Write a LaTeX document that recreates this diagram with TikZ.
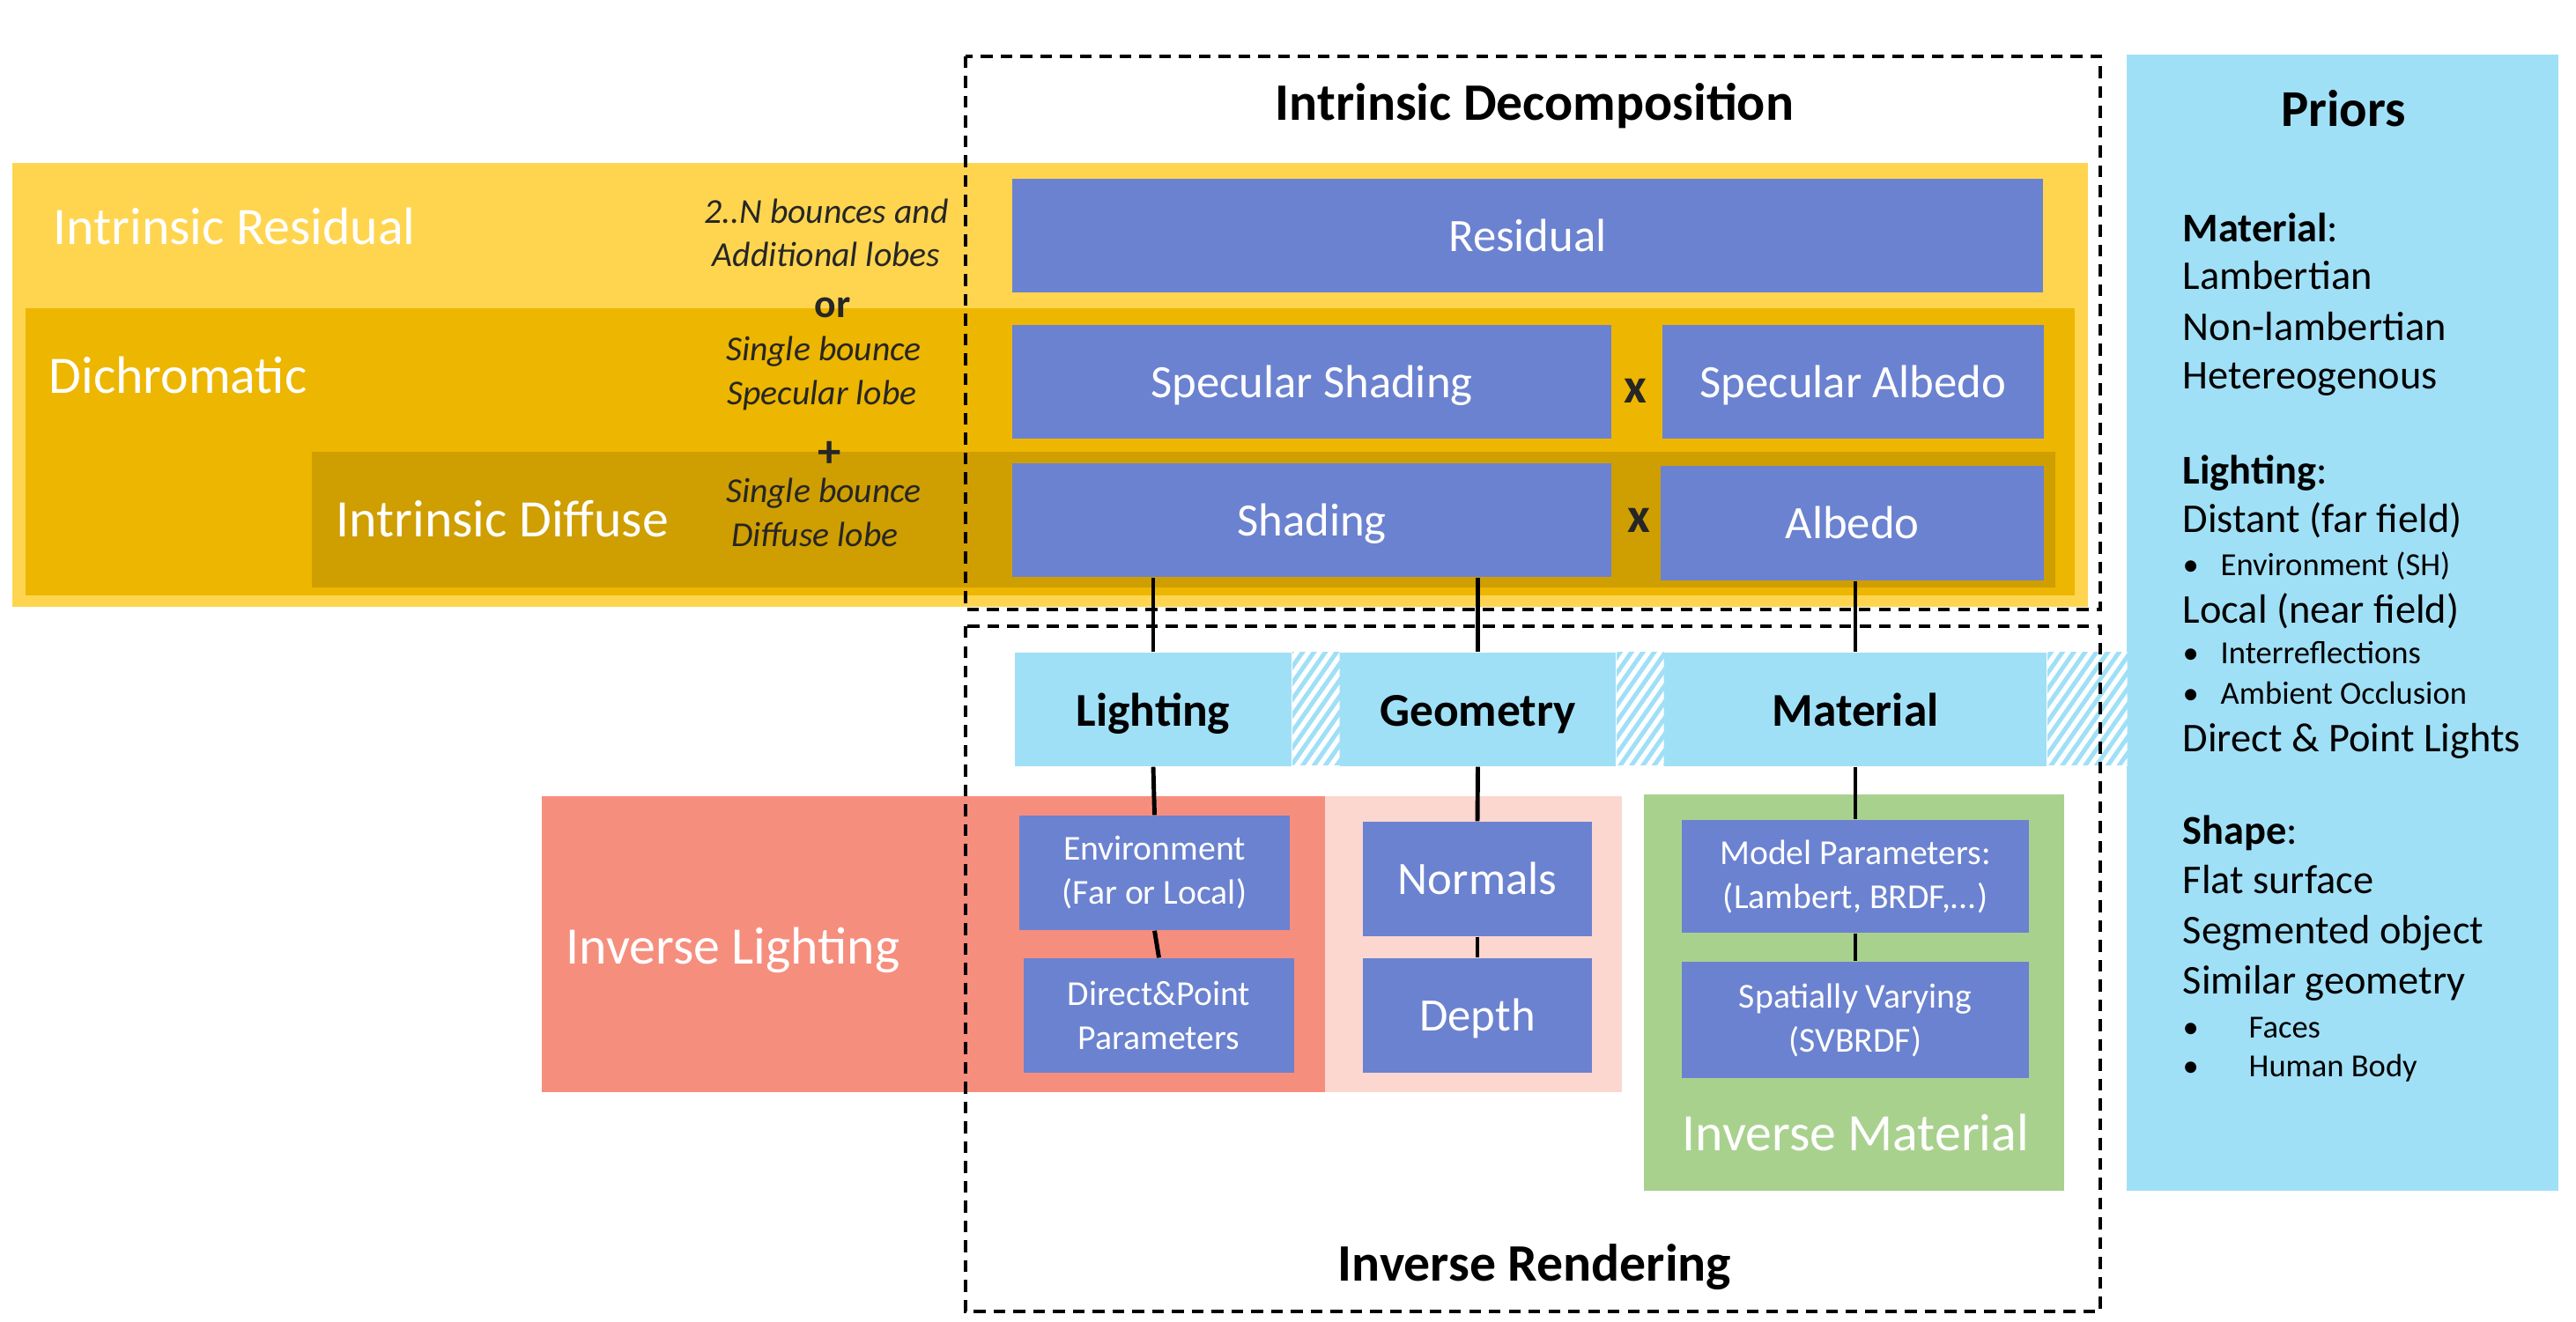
\documentclass[tikz,border=0pt]{standalone}
\usepackage{fontspec}
\setmainfont{Carlito}
\usetikzlibrary{patterns.meta}

\definecolor{resyellow}{HTML}{FFD550}
\definecolor{dichyellow}{HTML}{EDB600}
\definecolor{diffyellow}{HTML}{CF9E00}
\definecolor{boxblue}{HTML}{6B82D0}
\definecolor{catcyan}{HTML}{A0E0F7}
\definecolor{lightred}{HTML}{F68E7E}
\definecolor{geompink}{HTML}{FBD7D0}
\definecolor{matgreen}{HTML}{A9D18E}
\definecolor{notegray}{HTML}{262626}

\tikzset{
  blk/.style={fill=boxblue, text=white, inner sep=0pt, text height=11pt, text depth=1pt, font=\fontsize{15}{18}\selectfont},
  blks/.style={fill=boxblue, text=white, inner sep=0pt, align=center, font=\fontsize{11.3}{14.2}\selectfont},
  cat/.style={fill=catcyan, inner sep=0pt, text height=11.6pt, text depth=1pt, font=\bfseries\fontsize{15.2}{18}\selectfont},
  hatch/.style={preaction={fill=catcyan}, pattern={Lines[angle=55,distance=3pt,line width=1.5pt]}, pattern color=white},
  area/.style={text=white, inner sep=0pt, anchor=base west, font=\fontsize{17}{20}\selectfont},
  note/.style={text=notegray, inner sep=0pt, anchor=base, font=\itshape\fontsize{11.3}{13}\selectfont},
  sign/.style={text=notegray, inner sep=0pt, font=\bfseries\fontsize{13}{15}\selectfont},
  title/.style={inner sep=0pt, anchor=base, font=\bfseries\fontsize{17}{20}\selectfont},
  prior/.style={inner sep=0pt, anchor=base west, font=\fontsize{13.2}{16}\selectfont},
  priorsm/.style={prior, font=\fontsize{10.4}{12}\selectfont},
  frame/.style={line width=1.1pt, dash pattern=on 3.8pt off 2.6pt},
  link/.style={line width=1.4pt}
}

\begin{document}
\begin{tikzpicture}
  \useasboundingbox (0,0) rectangle (29.24,-15.01);

  % coloured areas
  \fill[resyellow] (0.14,-1.85) rectangle (23.70,-6.89);
  \fill[dichyellow] (0.29,-3.50) rectangle (23.55,-6.76);
  \fill[diffyellow] (3.54,-5.13) rectangle (23.33,-6.67);
  \fill[lightred] (6.15,-9.04) rectangle (15.04,-12.40);
  \fill[geompink] (15.04,-9.04) rectangle (18.41,-12.40);
  \fill[matgreen] (18.66,-9.02) rectangle (23.43,-13.52);
  \fill[catcyan] (24.14,-0.62) rectangle (29.04,-13.52);

  \node[area] (resl) at (0.60,-2.77) {Intrinsic Residual};
  \node[area] (dichl) at (0.55,-4.46) {Dichromatic};
  \node[area] (diffl) at (3.81,-6.09) {Intrinsic Diffuse};
  \node[area] (invl) at (6.42,-10.94) {Inverse Lighting};
  \node[area] (invm) at (19.09,-13.06) {Inverse Material};

  \node[note] (n1) at (9.38,-2.53) {2..N bounces and};
  \node[note] (n2) at (9.38,-3.02) {Additional lobes};
  \node[sign, anchor=base] (or) at (9.45,-3.60) {or};
  \node[note] (n3) at (9.35,-4.09) {Single bounce};
  \node[note] (n4) at (9.33,-4.59) {Specular lobe};
  \node[sign, font=\bfseries\fontsize{15}{17}\selectfont] (plus) at (9.42,-5.16) {+};
  \node[note] (n5) at (9.35,-5.70) {Single bounce};
  \node[note] (n6) at (9.25,-6.20) {Diffuse lobe};

  % light blue categories
  \node[cat, minimum width=3.14cm, minimum height=1.29cm] (light) at (13.09,-8.055) {Lighting};
  \path[hatch] (light.north east) rectangle ++(0.54,-1.29);
  \node[cat, minimum width=3.13cm, minimum height=1.29cm] (geom) at (16.775,-8.055) {Geometry};
  \path[hatch] (geom.north east) rectangle ++(0.54,-1.29);
  \node[cat, minimum width=4.34cm, minimum height=1.29cm] (mat) at (21.06,-8.055) {Material};
  \path[hatch] (mat.north east) rectangle ++(0.91,-1.29);

  % dashed frames
  \draw[frame] (10.96,-0.64) rectangle (23.84,-6.92);
  \node[title] (idtitle) at (17.42,-1.36) {Intrinsic Decomposition};
  \draw[frame] (10.96,-7.11) rectangle (23.84,-14.89);
  \node[title] (irtitle) at (17.42,-14.54) {Inverse Rendering};

  % decomposition
  \node[blk, minimum width=11.70cm, minimum height=1.29cm] (res) at (17.34,-2.675) {Residual};
  \node[blk, minimum width=6.80cm, minimum height=1.29cm] (sshad) at (14.89,-4.335) {Specular Shading};
  \node[blk, minimum width=4.33cm, minimum height=1.29cm] (salb) at (21.035,-4.335) {Specular Albedo};
  \node[blk, minimum width=6.80cm, minimum height=1.29cm] (shad) at (14.89,-5.905) {Shading};
  \node[blk, minimum width=4.35cm, minimum height=1.30cm] (alb) at (21.025,-5.94) {Albedo};
  \node[sign, font=\bfseries\fontsize{16}{18}\selectfont] (x1) at (18.56,-4.44) {x};
  \node[sign, font=\bfseries\fontsize{16}{18}\selectfont] (x2) at (18.60,-5.91) {x};

  % inverse rendering
  \node[blks, minimum width=3.07cm, minimum height=1.30cm] (env) at (13.105,-9.91) {Environment\\(Far or Local)};
  \node[blks, minimum width=3.07cm, minimum height=1.30cm] (dirpt) at (13.155,-11.53) {Direct\&Point\\Parameters};
  \node[blk, minimum width=2.60cm, minimum height=1.30cm] (norm) at (16.77,-9.98) {Normals};
  \node[blk, minimum width=2.60cm, minimum height=1.30cm] (depth) at (16.77,-11.53) {Depth};
  \node[blks, minimum width=3.94cm, minimum height=1.28cm] (model) at (21.06,-9.95) {Model Parameters:\\(Lambert, BRDF,...)};
  \node[blks, minimum width=3.94cm, minimum height=1.32cm] (svbrdf) at (21.06,-11.58) {Spatially Varying\\(SVBRDF)};

  \draw[link] (light.north) -- (light.north |- shad.south);
  \draw[link] (geom.north) -- (geom.north |- shad.south);
  \draw[link] (mat.north) -- (mat.north |- alb.south);
  \draw[link] (light.south) -- (env.north);
  \draw[link] (env.south) -- (dirpt.north);
  \draw[link] (geom.south) -- (norm.north);
  \draw[link] (norm.south) -- (depth.north);
  \draw[link] (mat.south) -- (model.north);
  \draw[link] (model.south) -- (svbrdf.north);

  % priors
  \node[inner sep=0pt, anchor=base, font=\bfseries\fontsize{16.7}{20}\selectfont] (prt) at (26.60,-1.43) {Priors};
  \node[prior] (p1) at (24.77,-2.74) {\textbf{Material}:};
  \node[prior] (p2) at (24.77,-3.28) {Lambertian};
  \node[prior] (p3) at (24.77,-3.86) {Non-lambertian};
  \node[prior] (p4) at (24.77,-4.41) {Hetereogenous};
  \node[prior] (p5) at (24.77,-5.49) {\textbf{Lighting}:};
  \node[prior] (p6) at (24.77,-6.04) {Distant (far field)};
  \node[priorsm] (b1) at (24.77,-6.53) {\textbullet};
  \node[priorsm] (p7) at (25.20,-6.53) {Environment (SH)};
  \node[prior] (p8) at (24.77,-7.07) {Local (near field)};
  \node[priorsm] (b2) at (24.77,-7.53) {\textbullet};
  \node[priorsm] (p9) at (25.20,-7.53) {Interreflections};
  \node[priorsm] (b3) at (24.77,-7.99) {\textbullet};
  \node[priorsm] (p10) at (25.20,-7.99) {Ambient Occlusion};
  \node[prior] (p11) at (24.77,-8.53) {Direct \& Point Lights};
  \node[prior] (p12) at (24.77,-9.58) {\textbf{Shape}:};
  \node[prior] (p13) at (24.77,-10.14) {Flat surface};
  \node[prior] (p14) at (24.77,-10.71) {Segmented object};
  \node[prior] (p15) at (24.77,-11.28) {Similar geometry};
  \node[priorsm] (b4) at (24.77,-11.78) {\textbullet};
  \node[priorsm] (p16) at (25.52,-11.78) {Faces};
  \node[priorsm] (b5) at (24.77,-12.22) {\textbullet};
  \node[priorsm] (p17) at (25.52,-12.22) {Human Body};
\end{tikzpicture}
\end{document}
